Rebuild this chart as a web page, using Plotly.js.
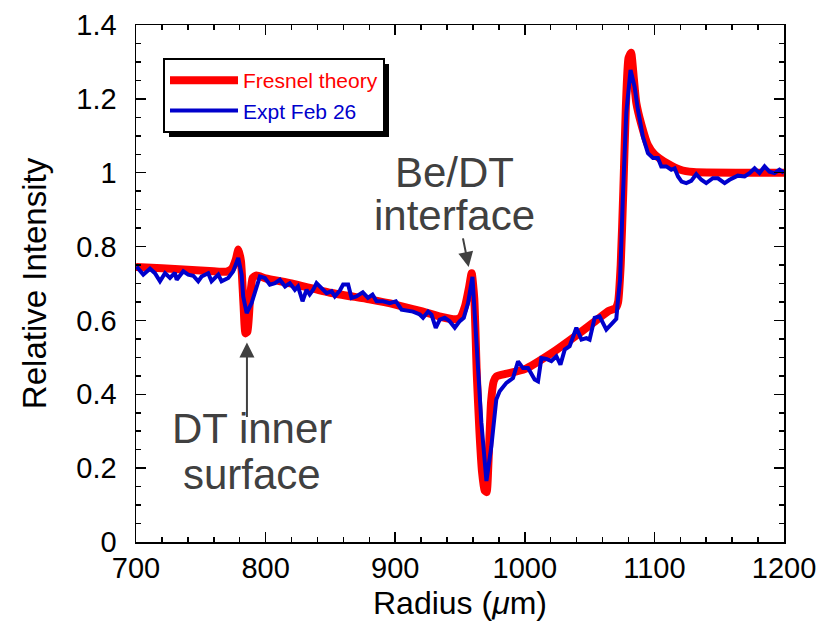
<!DOCTYPE html>
<html>
<head>
<meta charset="utf-8">
<script src="https://cdn.plot.ly/plotly-3.0.1.min.js"></script>
<style>html,body{margin:0;padding:0;background:#fff;}#chart{width:838px;height:625px;}</style>
</head>
<body>
<div id="chart"></div>
<script>
// Fresnel theory curve
const theoryX = [700, 720, 740, 760, 770, 774, 777, 779, 781, 783, 784.5, 786, 788, 790, 793, 800, 820, 850, 880, 900, 920, 935, 945, 950, 954, 957, 959, 961, 963, 965, 967, 969, 970.5, 972, 974, 976, 978, 985, 1000, 1020, 1040, 1055, 1065, 1070, 1072, 1074, 1076, 1078, 1080, 1082, 1084, 1086, 1090, 1095, 1100, 1110, 1120, 1130, 1200];
const theoryY = [0.745, 0.741, 0.737, 0.733, 0.732, 0.740, 0.765, 0.792, 0.760, 0.640, 0.565, 0.570, 0.660, 0.715, 0.722, 0.714, 0.700, 0.675, 0.657, 0.643, 0.625, 0.610, 0.603, 0.607, 0.640, 0.690, 0.728, 0.660, 0.450, 0.300, 0.190, 0.140, 0.135, 0.220, 0.380, 0.435, 0.448, 0.455, 0.468, 0.510, 0.560, 0.600, 0.626, 0.633, 0.650, 0.750, 0.950, 1.180, 1.310, 1.325, 1.260, 1.190, 1.130, 1.075, 1.050, 1.025, 1.008, 1.002, 1.000];

// Experimental data, Feb 26
const exptX = [700.5, 705.6, 710.8, 714.6, 718.5, 722.4, 726.2, 730, 731.4, 736.5, 740.3, 744.2, 748, 750.6, 755.7, 758.3, 763.5, 766, 771.2, 775, 778.9, 781.5, 782.7, 785.4, 789.2, 791.7, 795.6, 799.5, 803.3, 807.2, 811, 815, 818.7, 822.6, 825, 828.5, 831.6, 834, 836.7, 839.3, 843, 847, 850.9, 853.4, 857.3, 859.8, 863.7, 866.3, 870, 875, 879, 882.5, 885.6, 890.7, 895.8, 900.5, 904.9, 908.7, 913.8, 919, 921.5, 925.4, 928, 931.3, 934.4, 938.2, 942, 946, 949.8, 952.9, 956.2, 959.6, 962.7, 966.5, 970.4, 974.2, 978, 980.6, 985.8, 990.9, 994.8, 998.6, 1002.5, 1007.6, 1010.2, 1012.8, 1016.7, 1020.5, 1024.4, 1027.5, 1030.8, 1034.6, 1039.8, 1043.7, 1047.5, 1050, 1053.9, 1057.7, 1062.9, 1066.7, 1070.6, 1071.9, 1073.5, 1075.7, 1078.3, 1081.6, 1084.7, 1087.3, 1091.1, 1095, 1098.9, 1102.7, 1105.3, 1109.2, 1113, 1115.6, 1118.2, 1121, 1124.6, 1128.4, 1132.3, 1136.2, 1140, 1145.1, 1149, 1154.2, 1158, 1164.4, 1169.6, 1173.4, 1177.3, 1181.1, 1185, 1188.8, 1192.7, 1196.5, 1200];
const exptY = [0.746, 0.724, 0.740, 0.728, 0.706, 0.728, 0.715, 0.729, 0.710, 0.733, 0.724, 0.721, 0.706, 0.719, 0.728, 0.706, 0.724, 0.706, 0.715, 0.733, 0.769, 0.724, 0.665, 0.620, 0.647, 0.679, 0.719, 0.715, 0.697, 0.701, 0.710, 0.692, 0.701, 0.683, 0.692, 0.652, 0.683, 0.670, 0.683, 0.701, 0.688, 0.674, 0.679, 0.665, 0.681, 0.697, 0.697, 0.661, 0.665, 0.676, 0.661, 0.670, 0.652, 0.652, 0.647, 0.652, 0.629, 0.627, 0.624, 0.616, 0.607, 0.624, 0.616, 0.580, 0.602, 0.607, 0.598, 0.580, 0.598, 0.607, 0.647, 0.718, 0.548, 0.323, 0.165, 0.259, 0.386, 0.408, 0.431, 0.444, 0.489, 0.471, 0.471, 0.440, 0.435, 0.498, 0.496, 0.490, 0.503, 0.480, 0.521, 0.530, 0.580, 0.548, 0.552, 0.548, 0.607, 0.611, 0.575, 0.590, 0.604, 0.656, 0.710, 0.936, 1.162, 1.278, 1.233, 1.170, 1.098, 1.053, 1.040, 1.040, 1.017, 1.017, 1.008, 1.012, 0.990, 0.976, 0.972, 0.978, 0.996, 0.981, 0.972, 0.985, 0.985, 0.972, 0.981, 0.992, 0.990, 0.999, 1.012, 0.999, 1.017, 1.003, 0.999, 1.008, 1.000];

const seriesNames = ['Fresnel theory', 'Expt Feb 26'];
const seriesColors = ['#ff0000', '#0000cc'];
const xTitle = 'Radius (<i>μ</i>m)';
const yTitle = 'Relative Intensity';

const FONT = '"Liberation Sans", Arial, Helvetica, sans-serif';

const traces = [
  {x: theoryX, y: theoryY, type: 'scatter', mode: 'lines',
   name: '<span style="color:' + seriesColors[0] + '">' + seriesNames[0] + '</span>',
   line: {color: seriesColors[0], width: 8, shape: 'spline', smoothing: 0.5}},
  {x: exptX, y: exptY, type: 'scatter', mode: 'lines',
   name: '<span style="color:' + seriesColors[1] + '">' + seriesNames[1] + '</span>',
   line: {color: seriesColors[1], width: 4}}
];

const W = 838, H = 625, mL = 136, mR = 54, mT = 25, mB = 83;
const pw = W - mL - mR, ph = H - mT - mB;
function px2paperX(p) { return (p - mL) / pw; }
function px2paperY(p) { return 1 - (p - mT) / ph; }

const annColor = '#404040';
const annFont = {size: 42, color: annColor, family: FONT};
function label(x, ypx, text) {
  return {x: x, y: px2paperY(ypx), xref: 'x', yref: 'paper', text: text, showarrow: false,
          xanchor: 'center', yanchor: 'middle', font: annFont};
}
const layout = {
  width: W, height: H,
  margin: {l: mL, r: mR, t: mT, b: mB, pad: 0},
  paper_bgcolor: '#fff', plot_bgcolor: '#fff',
  font: {family: FONT, color: '#000', size: 29},
  showlegend: true,
  legend: {
    x: px2paperX(163), y: px2paperY(58), xanchor: 'left', yanchor: 'top',
    bgcolor: '#fff', bordercolor: '#000', borderwidth: 2,
    font: {family: FONT, size: 21},
    itemwidth: 68, tracegroupgap: 0, entrywidth: 157
  },
  xaxis: {
    range: [700, 1200], tick0: 700, dtick: 100,
    ticks: 'inside', ticklen: 10, tickwidth: 1.5, tickcolor: '#000',
    showline: true, linewidth: 1.5, linecolor: '#000', mirror: 'allticks',
    showgrid: false, zeroline: false,
    minor: {dtick: 20, ticks: 'inside', ticklen: 5, tickwidth: 1.5, tickcolor: '#000', showgrid: false},
    tickfont: {size: 29, color: '#000'},
    title: {text: xTitle, font: {size: 32, color: '#000'}, standoff: 8}
  },
  yaxis: {
    range: [0, 1.4], tick0: 0, dtick: 0.2,
    ticks: 'inside', ticklen: 10, tickwidth: 1.5, tickcolor: '#000',
    showline: true, linewidth: 1.5, linecolor: '#000', mirror: 'allticks',
    showgrid: false, zeroline: false,
    minor: {dtick: 0.05, ticks: 'inside', ticklen: 5, tickwidth: 1.5, tickcolor: '#000', showgrid: false},
    tickfont: {size: 29, color: '#000'},
    ticklabelstandoff: 12,
    title: {text: yTitle, font: {size: 33, color: '#000'}, standoff: 20}
  },
  shapes: [
    {type: 'rect', xref: 'paper', yref: 'paper', layer: 'above',
     x0: px2paperX(168), x1: px2paperX(395), y0: px2paperY(130), y1: px2paperY(63),
     fillcolor: '#000', line: {width: 0}}
  ],
  annotations: [
    label(946, 172, 'Be/DT'),
    label(946, 215, 'interface'),
    {x: 956.7, y: 0.745, xref: 'x', yref: 'y', text: '', showarrow: true, ax: -6, ay: -30,
     arrowhead: 2, arrowsize: 1.5, arrowwidth: 2, arrowcolor: annColor},
    label(789.8, 428, 'DT inner'),
    label(789.8, 474, 'surface'),
    {x: 785.6, y: 0.54, xref: 'x', yref: 'y', text: '', showarrow: true, ax: 0, ay: 76,
     arrowhead: 2, arrowsize: 1.5, arrowwidth: 2, arrowcolor: annColor}
  ]
};

Plotly.newPlot('chart', traces, layout, {displayModeBar: false, staticPlot: true}).then(function (gd) {
  // size the legend shadow to the legend box that Plotly drew
  const bg = gd.querySelector('.legend .bg');
  if (!bg) return;
  const r = bg.getBoundingClientRect();
  const c = gd.getBoundingClientRect();
  const off = 5;
  const left = r.left - c.left + off, right = r.right - c.left + off;
  const top = r.top - c.top + off, bottom = r.bottom - c.top + off;
  Plotly.relayout(gd, {
    'shapes[0].x0': px2paperX(left), 'shapes[0].x1': px2paperX(right),
    'shapes[0].y0': px2paperY(bottom), 'shapes[0].y1': px2paperY(top)
  });
});
</script>
</body>
</html>
